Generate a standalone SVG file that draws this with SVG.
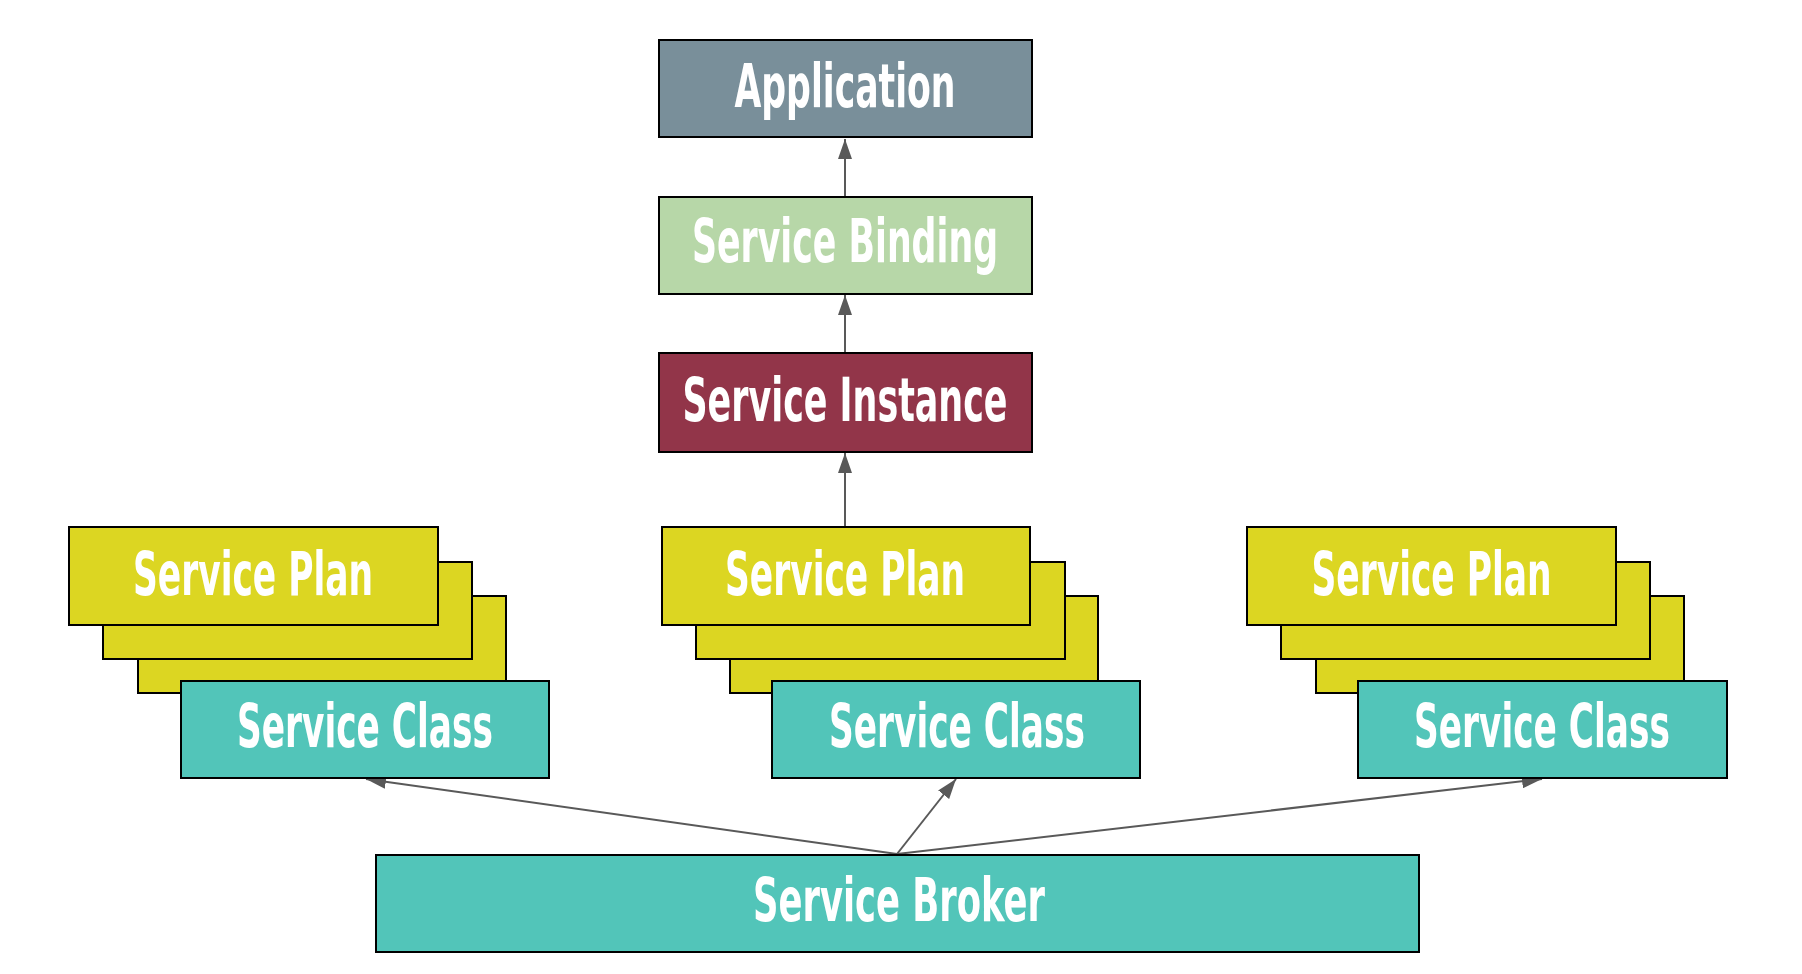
<svg xmlns="http://www.w3.org/2000/svg" width="1802" height="974" viewBox="0 0 1802 974">
<style>
.box{stroke:#000;stroke-width:2}
.app{fill:#798f9a}
.bind{fill:#b7d7a8}
.inst{fill:#923549}
.plan{fill:#dcd622}
.cls{fill:#52c5b9}
.lbl{font-family:"Liberation Sans Narrow","DejaVu Sans Condensed","Liberation Sans",sans-serif;font-weight:bold;font-size:61px;fill:#fff;text-anchor:middle}
.conn{stroke:#595959;stroke-width:2;fill:none;marker-end:url(#arr)}
</style>
<defs>
<marker id="arr" markerUnits="strokeWidth" markerWidth="10" markerHeight="7" refX="10" refY="3.5" orient="auto">
<path d="M0,0 L10,3.5 L0,7 z" fill="#595959"/>
</marker>
</defs>
<rect width="1802" height="974" fill="#fff"/>
<g id="connectors">
<line class="conn" x1="845" y1="197" x2="845" y2="139"/>
<line class="conn" x1="845" y1="353" x2="845" y2="295"/>
<line class="conn" x1="845" y1="527" x2="845" y2="453"/>
<line class="conn" x1="897" y1="854" x2="366" y2="779"/>
<line class="conn" x1="897" y1="854" x2="956" y2="779"/>
<line class="conn" x1="897" y1="854" x2="1542" y2="779"/>
</g>
<g id="application">
<rect class="box app" x="659" y="40" width="373" height="97"/>
<text class="lbl" x="845" y="107" textLength="221" lengthAdjust="spacingAndGlyphs">Application</text>
</g>
<g id="service-binding">
<rect class="box bind" x="659" y="197" width="373" height="97"/>
<text class="lbl" x="845" y="262" textLength="306" lengthAdjust="spacingAndGlyphs">Service Binding</text>
</g>
<g id="service-instance">
<rect class="box inst" x="659" y="353" width="373" height="99"/>
<text class="lbl" x="845" y="421" textLength="325" lengthAdjust="spacingAndGlyphs">Service Instance</text>
</g>
<g id="stack-left">
<rect class="box plan" x="138" y="596" width="368" height="97"/>
<rect class="box plan" x="103" y="562" width="369" height="97"/>
<rect class="box plan" x="69" y="527" width="369" height="98"/>
<text class="lbl" x="253" y="595" textLength="240" lengthAdjust="spacingAndGlyphs">Service Plan</text>
<rect class="box cls" x="181" y="681" width="368" height="97"/>
<text class="lbl" x="365" y="747" textLength="256" lengthAdjust="spacingAndGlyphs">Service Class</text>
</g>
<g id="stack-middle">
<rect class="box plan" x="730" y="596" width="368" height="97"/>
<rect class="box plan" x="696" y="562" width="369" height="97"/>
<rect class="box plan" x="662" y="527" width="368" height="98"/>
<text class="lbl" x="845" y="595" textLength="240" lengthAdjust="spacingAndGlyphs">Service Plan</text>
<rect class="box cls" x="772" y="681" width="368" height="97"/>
<text class="lbl" x="957" y="747" textLength="256" lengthAdjust="spacingAndGlyphs">Service Class</text>
</g>
<g id="stack-right">
<rect class="box plan" x="1316" y="596" width="368" height="97"/>
<rect class="box plan" x="1281" y="562" width="369" height="97"/>
<rect class="box plan" x="1247" y="527" width="369" height="98"/>
<text class="lbl" x="1431.5" y="595" textLength="240" lengthAdjust="spacingAndGlyphs">Service Plan</text>
<rect class="box cls" x="1358" y="681" width="369" height="97"/>
<text class="lbl" x="1542" y="747" textLength="256" lengthAdjust="spacingAndGlyphs">Service Class</text>
</g>
<g id="service-broker">
<rect class="box cls" x="376" y="855" width="1043" height="97"/>
<text class="lbl" x="899" y="921" textLength="292" lengthAdjust="spacingAndGlyphs">Service Broker</text>
</g>
</svg>
